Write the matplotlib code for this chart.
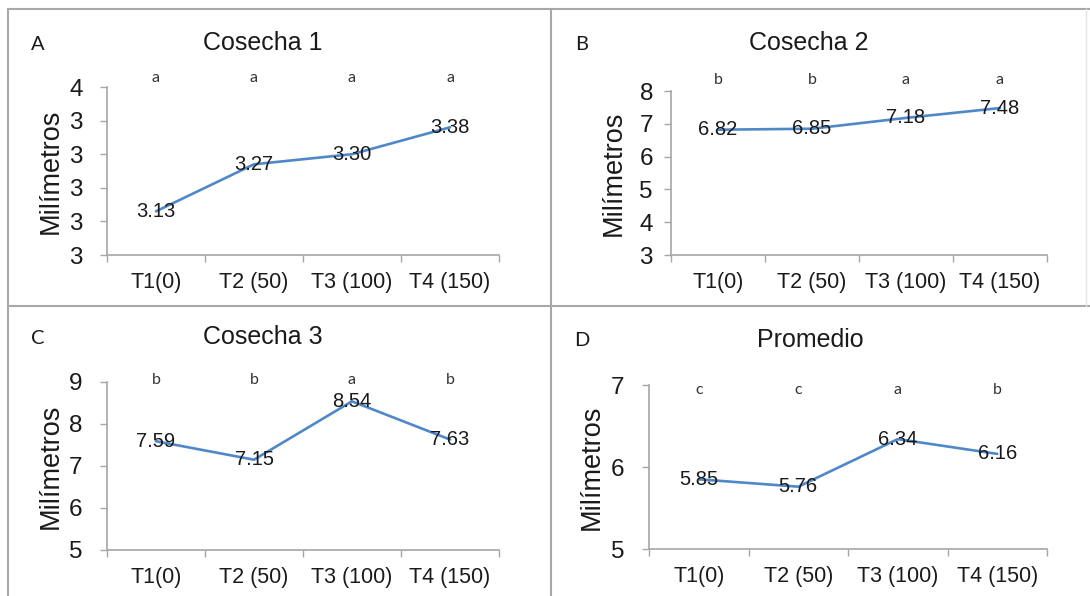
import matplotlib
matplotlib.use("Agg")
import matplotlib.pyplot as plt
from matplotlib.lines import Line2D
from matplotlib.ticker import FormatStrFormatter, FixedLocator
import numpy as np

# Treatments (kg/ha) and mean values in millimetres
categories = ["T1(0)", "T2 (50)", "T3 (100)", "T4 (150)"]
cosecha1 = [3.13, 3.27, 3.30, 3.38]
cosecha2 = [6.82, 6.85, 7.18, 7.48]
cosecha3 = [7.59, 7.15, 8.54, 7.63]
promedio = [5.85, 5.76, 6.34, 6.16]

# Significance letters
letras1 = ["a", "a", "a", "a"]
letras2 = ["b", "b", "a", "a"]
letras3 = ["b", "b", "a", "b"]
letras4 = ["c", "c", "a", "b"]

titles = ["Cosecha 1", "Cosecha 2", "Cosecha 3", "Promedio"]
panel_tags = ["A", "B", "C", "D"]

W, H = 1090, 596
fig = plt.figure(figsize=(W / 100, H / 100), dpi=100)
fig.patch.set_facecolor("white")

SANS = ["Liberation Sans", "DejaVu Sans"]
CAL = ["Lato", "DejaVu Sans"]
LINE_C = "#4F88C8"
AX_C = "#A6A6A6"
BORDER_C = "#A8A8A8"


def px_rect(left, top, right, bottom):
    return [left / W, 1 - bottom / H, (right - left) / W, (bottom - top) / H]


panels = [
    dict(rect=px_rect(107, 87, 499, 255), vals=cosecha1, letters=letras1,
         ylim=(3.0, 3.5), step=0.1, fmt="%.0f", letter_y=1.054, ypad=12.5,
         ylab_x=51, title_xy=(263, 43), tag_xy=(38, 44)),
    dict(rect=px_rect(671, 91, 1047, 255), vals=cosecha2, letters=letras2,
         ylim=(3, 8), step=1, fmt="%.0f", letter_y=1.067, ypad=8,
         ylab_x=614, title_xy=(809, 43), tag_xy=(582, 44)),
    dict(rect=px_rect(107, 382, 499, 550), vals=cosecha3, letters=letras3,
         ylim=(5, 9), step=1, fmt="%.0f", letter_y=1.012, ypad=12.5,
         ylab_x=51, title_xy=(263, 337), tag_xy=(38, 338)),
    dict(rect=px_rect(649, 385, 1047, 549), vals=promedio, letters=letras4,
         ylim=(5, 7), step=1, fmt="%.0f", letter_y=0.97, ypad=12.5,
         ylab_x=592, title_xy=(810, 340), tag_xy=(582, 341)),
]

x = np.arange(len(categories))

for i, p in enumerate(panels):
    ax = fig.add_axes(p["rect"])
    ax.set_facecolor("white")
    ax.plot(x, p["vals"], color=LINE_C, lw=1.9, solid_capstyle="round", zorder=2)

    for xi, v in zip(x, p["vals"]):
        ax.text(xi, v, f"{v:.2f}", ha="center", va="center", fontsize=14.5,
                family=SANS, color="#1a1a1a", zorder=3)

    for xi, lt in zip(x, p["letters"]):
        ax.text(xi, p["letter_y"], lt, transform=ax.get_xaxis_transform(),
                ha="center", va="center", fontsize=11.5, family=CAL,
                color="#333333", clip_on=False)

    ax.set_xlim(-0.5, len(categories) - 0.5)
    lo, hi = p["ylim"]
    ax.set_ylim(lo, hi)
    nt = int(round((hi - lo) / p["step"])) + 1
    ax.yaxis.set_major_locator(FixedLocator(np.linspace(lo, hi, nt)))
    ax.yaxis.set_major_formatter(FormatStrFormatter(p["fmt"]))

    # category boundary ticks, labels at category centres
    ax.set_xticks(np.arange(-0.5, len(categories), 1.0))
    ax.set_xticklabels([])
    ax.set_xticks(x, minor=True)
    ax.set_xticklabels(categories, minor=True, fontsize=15.5, family=SANS,
                       color="#1a1a1a")
    ax.tick_params(axis="x", which="major", direction="out", length=5,
                   width=1, color=AX_C)
    ax.tick_params(axis="x", which="minor", length=0, pad=12)
    ax.tick_params(axis="y", direction="out", length=5, width=1, color=AX_C,
                   pad=p["ypad"], labelsize=17.5, labelcolor="#1a1a1a")
    for lbl in ax.get_yticklabels():
        lbl.set_family(SANS)

    for s in ("top", "right"):
        ax.spines[s].set_visible(False)
    for s in ("left", "bottom"):
        ax.spines[s].set_color(AX_C)
        ax.spines[s].set_linewidth(1.2)

    # y-axis title placed at a fixed horizontal position
    bbox = p["rect"]
    fig.text(p["ylab_x"] / W, bbox[1] + bbox[3] / 2, "Milímetros",
             rotation=90, ha="center", va="center", fontsize=19.5,
             family=SANS, color="#1a1a1a")

    tx, ty = p["title_xy"]
    fig.text(tx / W, 1 - ty / H, titles[i], ha="center", va="center",
             fontsize=18, family=SANS, color="#1a1a1a")
    gx, gy = p["tag_xy"]
    fig.text(gx / W, 1 - gy / H, panel_tags[i], ha="center", va="center",
             fontsize=14.5, family=CAL, color="#1a1a1a")

# panel frame lines
def fig_line(x0, y0, x1, y1, color=BORDER_C, lw=1.5):
    fig.add_artist(Line2D([x0 / W, x1 / W], [1 - y0 / H, 1 - y1 / H],
                          color=color, lw=lw, transform=fig.transFigure))

fig_line(8, 9, 1090, 9)
fig_line(8, 9, 8, 596)
fig_line(8, 306, 1090, 306)
fig_line(551, 9, 551, 596)
fig_line(1086, 9, 1086, 306, color="#E4E4E4", lw=1.0)

fig.savefig("out.png", dpi=100, facecolor="white")
